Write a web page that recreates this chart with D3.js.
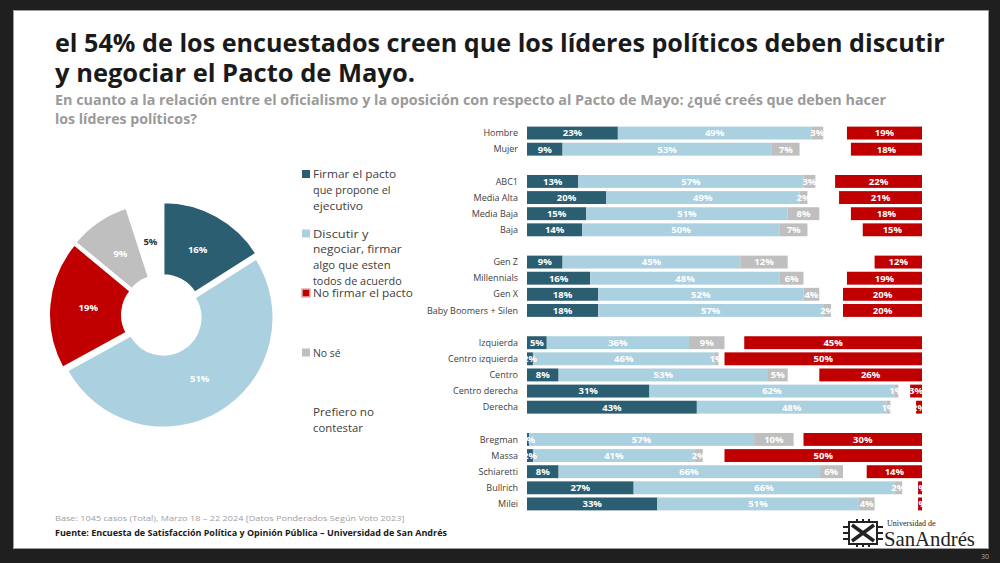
<!DOCTYPE html>
<html>
<head>
<meta charset="utf-8">
<script src="https://cdn.jsdelivr.net/npm/d3@7"></script>
<style>
  html,body{margin:0;padding:0;background:#1f1f1f;}
  svg{display:block;}
</style>
</head>
<body>
<svg id="c" width="1000" height="563"></svg>
<script>
// ---------------- DATA ----------------
const categories = ["Hombre","Mujer",null,"ABC1","Media Alta","Media Baja","Baja",null,
  "Gen Z","Millennials","Gen X","Baby Boomers + Silen",null,
  "Izquierda","Centro izquierda","Centro","Centro derecha","Derecha",null,
  "Bregman","Massa","Schiaretti","Bullrich","Milei"];
const firmar   = [23,9, 13,20,15,14, 9,16,18,18, 5,1.5,8,31,43, 0.5,1.5,8,27,33];
const discutir = [49,53, 57,49,51,50, 45,48,52,57, 36,46,53,62,48, 57,41,66,66,51];
const noSe     = [3,7, 3,2,8,7, 12,6,4,2, 9,1,5,1,1, 10,2,6,2,4];
const noFirmar = [19,18, 22,21,18,15, 12,19,20,20, 45,50,26,3,1.5, 30,50,14,1,1];

const pieKeys   = ["Firmar","Discutir","No firmar","No sé","Prefiero no contestar"];
const pieValues = [16,51,19,9,5];
const legendLines = [
  ["Firmar el pacto","que propone el","ejecutivo"],
  ["Discutir y","negociar, firmar","algo que esten","todos de acuerdo"],
  ["No firmar el pacto"],
  ["No sé"],
  ["Prefiero no","contestar"]
];
const titleLines = ["el 54% de los encuestados creen que los líderes políticos deben discutir",
  "y negociar el Pacto de Mayo."];
const subtitleLines = ["En cuanto a la relación entre el oficialismo y la oposición con respecto al Pacto de Mayo: ¿qué creés que deben hacer",
  "los líderes políticos?"];
const baseNote = "Base: 1045 casos (Total), Marzo 18 – 22 2024 [Datos Ponderados Según Voto 2023]";
const sourceNote = "Fuente: Encuesta de Satisfacción Política y Opinión Pública – Universidad de San Andrés";

// ---------------- STYLE ----------------
const C = {dark:"#2c5e71", light:"#abd0e0", red:"#c00000", gray:"#bfbfbf", none:"#ffffff"};
const pieColors = [C.dark, C.light, C.red, C.gray, C.none];
const FONT = "'Open Sans', 'Noto Sans', sans-serif";

const svg = d3.select("#c");

// horizontally squeezed text (condensed look), fitted to a target width
function fitText(parent, str, x0, y0, target, attrs){
  const g = parent.append("g");
  const t = g.append("text").attr("x",0).attr("y",0).text(str);
  Object.entries(attrs).forEach(([k,v])=>t.attr(k,v));
  const w = t.node().getComputedTextLength();
  g.attr("transform",`translate(${x0},${y0}) scale(${target/w},1)`);
  return t;
}

// slide
svg.append("rect").attr("x",13.5).attr("y",10.5).attr("width",975).attr("height",538)
  .attr("fill","#fff").attr("stroke","#9c9c9c").attr("stroke-width",1);

// title
const tW = [890, 360];
titleLines.forEach((t,i)=>{
  fitText(svg, t, 55, 52+i*30, tW[i], {"font-family":FONT,"font-weight":700,"font-size":25,"fill":"#1a1a1a"});
});
const sW = [832, 142];
subtitleLines.forEach((t,i)=>{
  fitText(svg, t, 55, 105+i*19, sW[i], {"font-family":FONT,"font-weight":700,"font-size":13.5,"fill":"#9a9a9a"});
});

// ---------------- BAR CHART ----------------
const rowIdx = [];
categories.forEach((c,i)=>{ if(c!==null) rowIdx.push(i); });
const y = d3.scaleBand().domain(d3.range(categories.length)).range([125,512]).paddingInner(0.2).paddingOuter(0.1);
const x = d3.scaleLinear().domain([0,100]).range([527,922]);

const rows = rowIdx.map((ci,k)=>({
  cat:categories[ci], yi:ci,
  segs:[
    {v:firmar[k], x0:0, x1:firmar[k], c:C.dark},
    {v:discutir[k], x0:firmar[k], x1:firmar[k]+discutir[k], c:C.light},
    {v:noSe[k], x0:firmar[k]+discutir[k], x1:firmar[k]+discutir[k]+noSe[k], c:C.gray},
    {v:noFirmar[k], x0:100-noFirmar[k], x1:100, c:C.red}
  ]
}));

svg.append("defs").append("clipPath").attr("id","plotclip")
  .append("rect").attr("x",x(0)).attr("y",110).attr("width",x(100)-x(0)).attr("height",420);

const barG = svg.append("g");
const rowG = barG.selectAll("g.row").data(rows).join("g").attr("class","row");
rowG.selectAll("rect").data(d=>d.segs.map(s=>({...s,yi:d.yi}))).join("rect")
  .attr("x",d=>x(d.x0)).attr("width",d=>Math.max(0,x(d.x1)-x(d.x0)))
  .attr("y",d=>y(d.yi)).attr("height",y.bandwidth()).attr("fill",d=>d.c);

const lblG = svg.append("g").attr("clip-path","url(#plotclip)");
rows.forEach(r=>{
  r.segs.forEach(s=>{
    lblG.append("text").attr("x",(x(s.x0)+x(s.x1))/2).attr("y",y(r.yi)+y.bandwidth()/2)
      .attr("dy","0.36em").attr("text-anchor","middle")
      .attr("font-family",FONT).attr("font-weight",700).attr("font-size",9.5)
      .attr("fill","#fff").text(Math.round(s.v)+"%");
  });
});

// category labels
const axG = svg.append("g");
axG.selectAll("text").data(rows).join("text")
  .attr("x",518).attr("y",d=>y(d.yi)+y.bandwidth()/2).attr("dy","0.35em")
  .attr("text-anchor","end").attr("font-family",FONT).attr("font-size",9)
  .attr("fill","#404040").text(d=>d.cat);

// ---------------- PIE ----------------
const cx=162, cy=315;
const pie = d3.pie().sort(null).value(d=>d)(pieValues);
const arc = d3.arc().innerRadius(37).outerRadius(110);
const lArc = d3.arc().innerRadius(74).outerRadius(74);
const pg = svg.append("g").attr("transform",`translate(${cx},${cy})`);
pg.selectAll("path").data(pie).join("path")
  .attr("d",arc)
  .attr("transform",d=>{const a=(d.startAngle+d.endAngle)/2; return `translate(${3*Math.sin(a)},${-3*Math.cos(a)})`;})
  .attr("fill",(d,i)=>pieColors[i]).attr("stroke","#fff").attr("stroke-width",2);
pg.selectAll("text").data(pie).join("text")
  .attr("transform",d=>`translate(${lArc.centroid(d)})`)
  .attr("text-anchor","middle").attr("dy","0.35em")
  .attr("font-family",FONT).attr("font-weight",700).attr("font-size",9.5)
  .attr("fill",(d,i)=>i===4?"#333":"#fff").text(d=>d.value+"%");

// legend
const ly = d3.scalePoint().domain(pieKeys).range([174,412]);
const lg = svg.append("g");
pieKeys.forEach((k,i)=>{
  const yy = ly(k);
  if(i<4){
    lg.append("rect").attr("x",302).attr("y",yy-4).attr("width",8).attr("height",8)
      .attr("fill",pieColors[i]).attr("stroke",i===2?"#e0b0b0":"none").attr("stroke-width",i===2?1.5:0);
  }
  legendLines[i].forEach((ln,j)=>{
    fitText(lg, ln, 313, yy+4+j*15.8, ln.length*5.55, {"font-family":FONT,"font-size":10.5,"fill":"#404040"});
  });
});

// ---------------- FOOTER ----------------
fitText(svg, baseNote, 55, 521, 350, {"font-family":FONT,"font-size":8,"fill":"#a0a0a0"});
fitText(svg, sourceNote, 55, 536, 392, {"font-family":FONT,"font-weight":700,"font-size":8.5,"fill":"#1a1a1a"});

// logo
const logo = svg.append("g").attr("transform","translate(843,519)");
logo.append("path").attr("d","M6,3 L34,3 L34,25 L6,25 Z").attr("fill","none").attr("stroke","#222").attr("stroke-width",2);
logo.append("path").attr("d","M9,6 L31,22 M31,6 L9,22").attr("stroke","#222").attr("stroke-width",3.5);
logo.append("path").attr("d","M0,8 L6,8 M0,14 L6,14 M0,20 L6,20 M34,8 L40,8 M34,14 L40,14 M34,20 L40,20 M14,0 L14,3 M20,0 L20,3 M26,0 L26,3 M14,25 L14,28 M20,25 L20,28 M26,25 L26,28")
  .attr("stroke","#222").attr("stroke-width",2);
svg.append("text").attr("x",887).attr("y",526).text("Universidad de")
  .attr("font-family","'Liberation Serif','DejaVu Serif',serif").attr("font-size",8).attr("fill","#222");
fitText(svg, "SanAndrés", 884, 546, 91, {"font-family":"'Liberation Serif','DejaVu Serif',serif","font-size":22,"fill":"#222"});

// page number
svg.append("text").attr("x",985).attr("y",559).attr("text-anchor","middle").text("30")
  .attr("font-family",FONT).attr("font-size",7).attr("fill","#aaa");
</script>
</body>
</html>
